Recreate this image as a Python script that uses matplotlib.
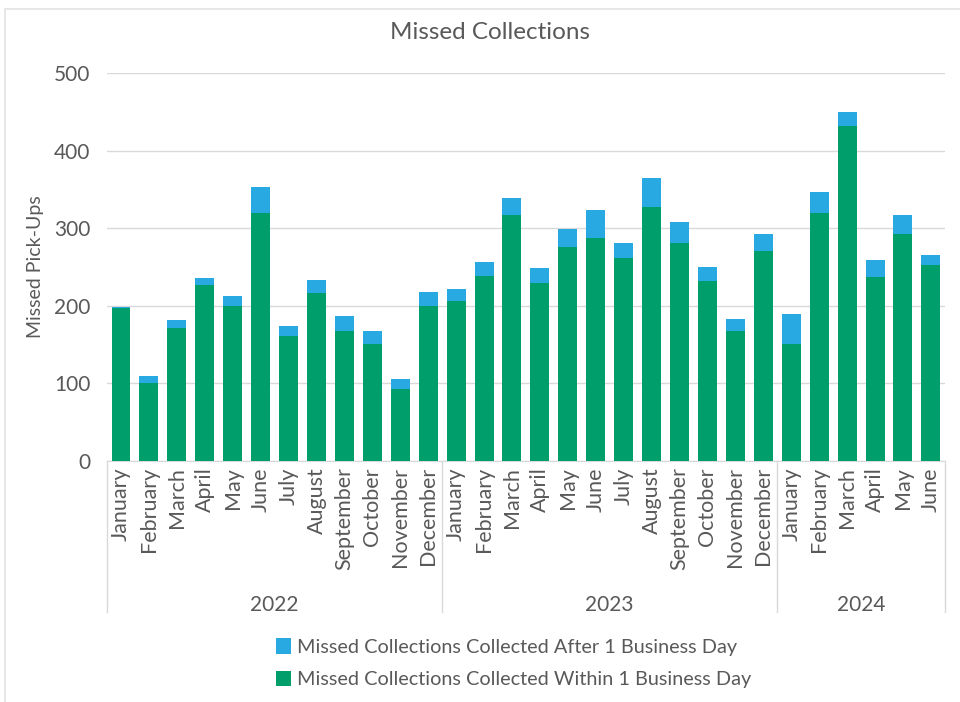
import matplotlib
matplotlib.use("Agg")
import matplotlib.pyplot as plt
import matplotlib.transforms as mtransforms
from matplotlib.patches import Patch, Rectangle

plt.rcParams['font.family'] = ['Lato', 'DejaVu Sans']

# data
years = ["2022", "2023", "2024"]
months_per_year = [12, 12, 6]
month_names = ["January", "February", "March", "April", "May", "June",
               "July", "August", "September", "October", "November", "December"]

within_1_day = [197, 101, 172, 227, 200, 320, 161, 216, 167, 151, 93, 200,
                206, 239, 317, 230, 276, 287, 261, 327, 281, 232, 168, 271,
                151, 319, 432, 237, 292, 252]
after_1_day = [1, 9, 10, 9, 13, 33, 13, 17, 20, 16, 13, 18,
               16, 17, 22, 19, 23, 36, 20, 38, 27, 18, 15, 21,
               38, 28, 18, 22, 25, 13]

labels = []
for n in months_per_year:
    labels += month_names[:n]

green = "#009E6A"
blue = "#29A9E1"
txt = "#595959"

fig = plt.figure(figsize=(9.6, 7.02), dpi=100)
ax = fig.add_axes([0.1115, 0.3433, 0.8727, 0.5527])

# outer chart border
fig.patches.append(Rectangle((0.005, -0.01), 1.2, 0.997, transform=fig.transFigure,
                             fill=False, edgecolor="#E3E3E3", linewidth=1.2))

x = list(range(len(labels)))
ax.bar(x, within_1_day, width=0.68, color=green, zorder=3)
ax.bar(x, after_1_day, width=0.68, bottom=within_1_day, color=blue, zorder=3)

ax.set_xlim(-0.5, len(labels) - 0.5)
ax.set_ylim(0, 500)
ax.set_yticks(range(0, 501, 100))
ax.tick_params(axis='y', length=0, labelsize=15, labelcolor=txt, pad=12)
ax.set_xticks([])
ax.grid(axis='y', color="#D9D9D9", linewidth=1)
ax.set_axisbelow(True)
for s in ["top", "right", "left"]:
    ax.spines[s].set_visible(False)
ax.spines["bottom"].set_color("#D9D9D9")

ax.set_ylabel("Missed Pick-Ups", fontsize=14, color=txt, labelpad=7)
fig.text(0.51, 0.953, "Missed Collections", fontsize=17.5, color=txt,
         ha='center', va='center')

# two-level category axis
trans = mtransforms.blended_transform_factory(ax.transData, ax.transAxes)
for i, lab in enumerate(labels):
    ax.text(i, -0.016, lab, transform=trans, rotation=90, ha='center', va='top',
            fontsize=15.5, color=txt)

bounds = [-0.5]
for n in months_per_year:
    bounds.append(bounds[-1] + n)
for b in bounds:
    ax.plot([b, b], [0, -0.39], transform=trans, color="#D9D9D9", linewidth=1, clip_on=False)
for i, y in enumerate(years):
    mid = (bounds[i] + bounds[i + 1]) / 2
    ax.text(mid, -0.37, y, transform=trans, ha='center', va='center',
            fontsize=15, color=txt)

handles = [Patch(facecolor=blue, label="Missed Collections Collected After 1 Business Day"),
           Patch(facecolor=green, label="Missed Collections Collected Within 1 Business Day")]
leg = fig.legend(handles=handles, loc='center', bbox_to_anchor=(0.535, 0.055),
                 frameon=False, fontsize=14.3, handlelength=0.8, handleheight=0.8,
                 handletextpad=0.3, labelspacing=0.75)
for t in leg.get_texts():
    t.set_color(txt)

fig.savefig("out.png", dpi=100, facecolor="white")
